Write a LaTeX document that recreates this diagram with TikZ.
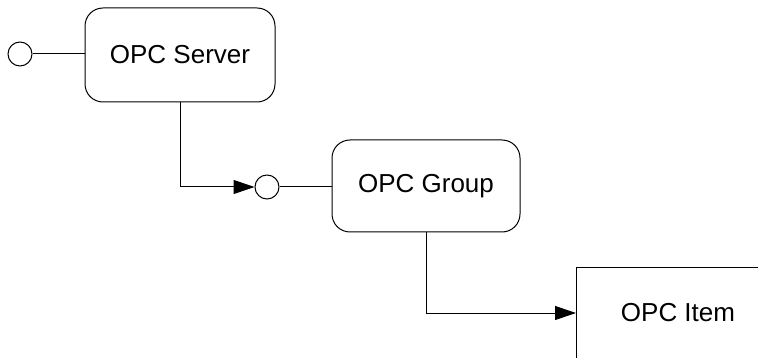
\documentclass[tikz,border=0pt]{standalone}
\usepackage{fontspec}
\setmainfont{Liberation Sans}
\usetikzlibrary{arrows.meta}
\begin{document}
\begin{tikzpicture}[x=1pt,y=-1pt, line width=1pt,
  rbox/.style={draw, rounded corners=18pt, font=\fontsize{26pt}{30pt}\selectfont, inner sep=0pt},
  port/.style={draw, circle, minimum size=24pt, inner sep=0pt},
  conn/.style={draw, -{Triangle[length=21pt,width=14pt]}},
  txt/.style={font=\fontsize{26pt}{30pt}\selectfont, inner sep=0pt}]
\useasboundingbox (0,0) rectangle (758,358);
\clip (0,0) rectangle (758,358);
\node[rbox, minimum width=190pt, minimum height=94pt] (server) at (180,55) {OPC Server};
\node[port] (p1) at (20,54) {};
\node[rbox, minimum width=188pt, minimum height=92pt] (group) at (426,186) {OPC Group};
\node[port] (p2) at (267,187) {};
\node[draw, anchor=north west, minimum width=230pt, minimum height=110pt, inner sep=0pt] (item) at (576,267) {};
\node[txt] (itemlabel) at (678,313) {OPC Item};
\coordinate (itemin) at (item.west |- itemlabel);
\draw (p1) -- (p1 -| server.west);
\draw[conn] (server.south) |- (p2.west);
\draw (p2) -- (p2 -| group.west);
\draw[conn] (group.south) |- (itemin);
\end{tikzpicture}
\end{document}
